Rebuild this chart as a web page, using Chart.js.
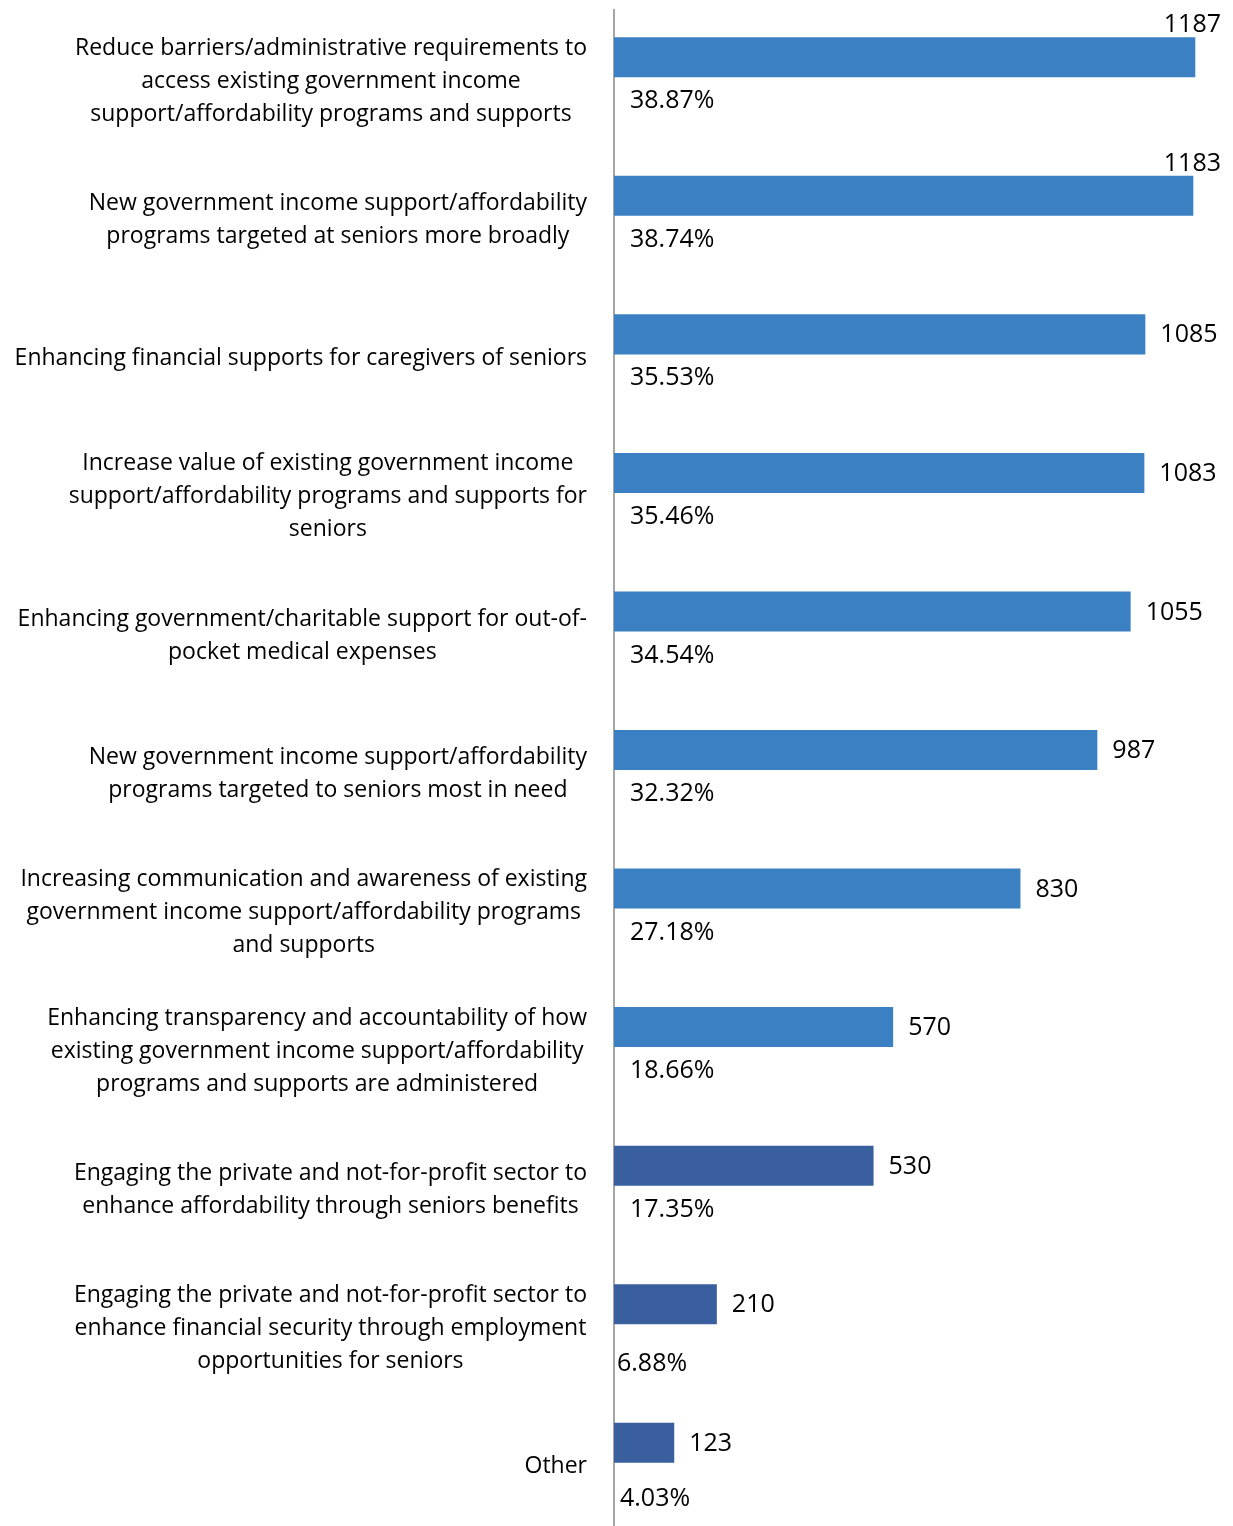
<!DOCTYPE html>
<html>
<head>
<meta charset="utf-8">
<script src="https://cdn.jsdelivr.net/npm/chart.js@4"></script>
<style>
  html, body { margin: 0; padding: 0; background: #fff; overflow: hidden; }
  #wrap { position: relative; width: 1233px; height: 1540px; }
</style>
</head>
<body>
<div id="wrap"><canvas id="bar" width="1233" height="1540"></canvas></div>
<script>
// category names, already broken into lines
const categories = [
    ["Reduce barriers/administrative requirements to", "access existing government income", "support/affordability programs and supports"],
    ["New government income support/affordability", "programs targeted at seniors more broadly"],
    ["Enhancing financial supports for caregivers of seniors"],
    ["Increase value of existing government income", "support/affordability programs and supports for", "seniors"],
    ["Enhancing government/charitable support for out-of-", "pocket medical expenses"],
    ["New government income support/affordability", "programs targeted to seniors most in need"],
    ["Increasing communication and awareness of existing", "government income support/affordability programs", "and supports"],
    ["Enhancing transparency and accountability of how", "existing government income support/affordability", "programs and supports are administered"],
    ["Engaging the private and not-for-profit sector to", "enhance affordability through seniors benefits"],
    ["Engaging the private and not-for-profit sector to", "enhance financial security through employment", "opportunities for seniors"],
    ["Other"]
];
const counts = [1187, 1183, 1085, 1083, 1055, 987, 830, 570, 530, 210, 123];
const percents = [38.87, 38.74, 35.53, 35.46, 34.54, 32.32, 27.18, 18.66, 17.35, 6.88, 4.03];

const LABEL_FONT = '23px "Open Sans"';
const VALUE_FONT = '25px "Open Sans"';
const LIGHT = '#3b80c2';
const DARK = '#3a5f9f';
const barColors = counts.map((v, i) => i < 8 ? LIGHT : DARK);
// the last two percentage labels sit a bit lower and further left
const pctShift = (i) => i === 9 ? [-13, 16] : i === 10 ? [-10, 12] : [0, 0];

// category names (right-aligned block, centred lines) and the value labels
const labelPlugin = {
    id: 'labels',
    afterDatasetsDraw(chart) {
        const ctx = chart.ctx;
        const yScale = chart.scales.y;
        const area = chart.chartArea;
        ctx.save();
        ctx.fillStyle = '#000000';
        ctx.textBaseline = 'middle';

        ctx.font = LABEL_FONT;
        categories.forEach((lines, i) => {
            const cy = yScale.getPixelForValue(i) + 2;
            const widest = Math.max(...lines.map(l => ctx.measureText(l).width));
            const cx = area.left - 27 - widest / 2;
            ctx.textAlign = 'center';
            lines.forEach((l, k) => {
                ctx.fillText(l, cx, cy + (k - (lines.length - 1) / 2) * 33);
            });
        });

        ctx.font = VALUE_FONT;
        chart.getDatasetMeta(0).data.forEach((bar, i) => {
            const txt = String(counts[i]);
            const w = ctx.measureText(txt).width;
            if (bar.x + 15 + w > area.right - 12) {
                ctx.textAlign = 'right';
                ctx.fillText(txt, area.right - 12, bar.y - bar.height / 2 - 12);
            } else {
                ctx.textAlign = 'left';
                ctx.fillText(txt, bar.x + 15, bar.y + 1);
            }
        });

        chart.getDatasetMeta(1).data.forEach((bar, i) => {
            const [dx, dy] = pctShift(i);
            ctx.textAlign = 'left';
            ctx.fillText(percents[i].toFixed(2) + '%', bar.base + 16 + dx, bar.y + dy);
        });
        ctx.restore();
    }
};

const ctx = document.getElementById("bar").getContext("2d");

new Chart(ctx, {
    type: 'bar',
    data: {
        labels: categories,
        datasets: [{
            label: 'Responses',
            data: counts,
            backgroundColor: barColors,
            borderWidth: 0,
            xAxisID: 'x'
        }, {
            label: 'Share',
            data: percents,
            backgroundColor: 'rgba(0, 0, 0, 0)',
            borderWidth: 0,
            xAxisID: 'xp'
        }]
    },
    options: {
        indexAxis: 'y',
        responsive: false,
        animation: false,
        categoryPercentage: 0.635,
        barPercentage: 0.91,
        layout: {
            padding: { top: 10, bottom: 6, left: 0, right: 0 }
        },
        plugins: {
            legend: { display: false },
            tooltip: { enabled: false }
        },
        scales: {
            x: {
                display: false,
                min: 0,
                max: 1264
            },
            xp: {
                display: false,
                min: 0,
                max: 100
            },
            y: {
                afterFit(scale) { scale.width = 614; },
                ticks: { display: false },
                grid: { display: false },
                border: { color: '#a6a6a6', width: 2 }
            }
        }
    },
    plugins: [labelPlugin]
});
</script>
</body>
</html>
